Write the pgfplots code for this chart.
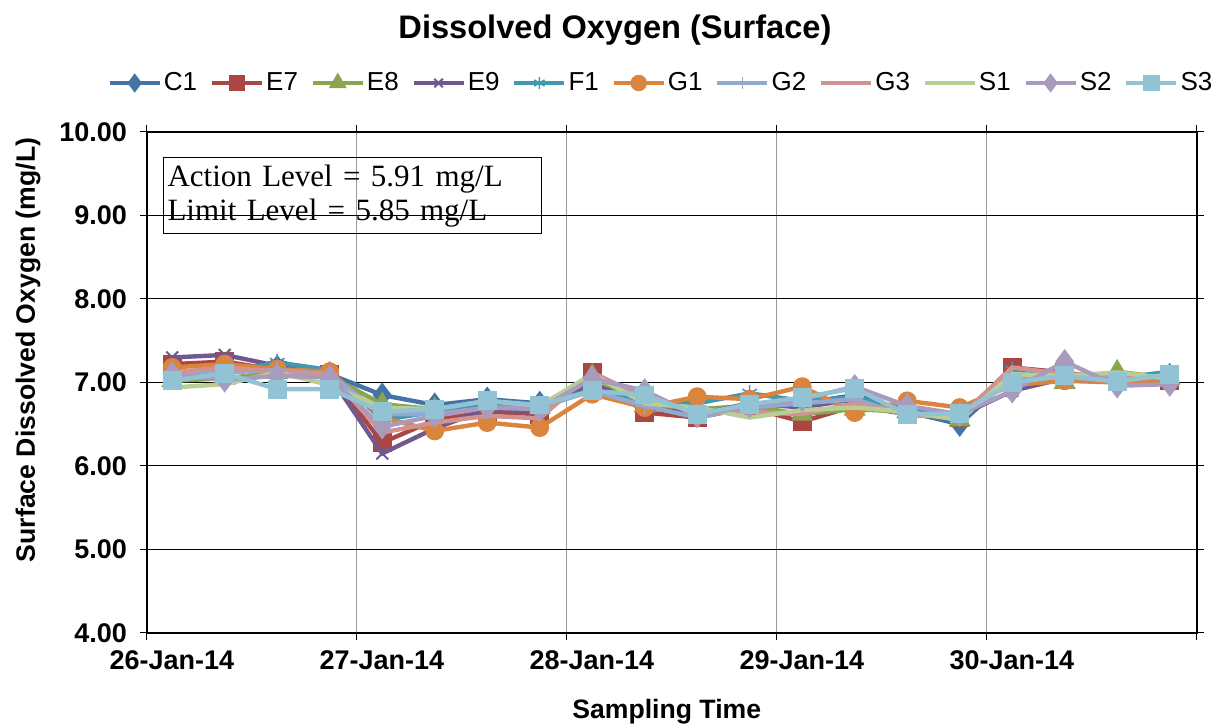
\documentclass[border=0pt]{standalone}
\usepackage{fontspec}
\setmainfont{Liberation Sans}
\newfontfamily\seriffont{Liberation Serif}
\usepackage{pgfplots}
\usepackage{pgfplotstable}
\pgfplotsset{compat=1.18}

\definecolor{cC1}{HTML}{4572A7}
\definecolor{cE7}{HTML}{AA4643}
\definecolor{cE8}{HTML}{89A54E}
\definecolor{cE9}{HTML}{71588F}
\definecolor{cF1}{HTML}{4198AF}
\definecolor{cG1}{HTML}{DB843D}
\definecolor{cG2}{HTML}{93A9CF}
\definecolor{cG3}{HTML}{D19392}
\definecolor{cS1}{HTML}{B9CD96}
\definecolor{cS2}{HTML}{A99BBD}
\definecolor{cS3}{HTML}{91C3D5}

\pgfplotstableread{
x     C1   E7   E8   E9   F1   G1   G2   G3   S1   S2   S3
26.12 7.12 7.22 7.02 7.30 7.08 7.18 7.10 7.12 6.94 7.10 7.02
26.37 7.15 7.25 7.05 7.33 7.12 7.22 7.12 7.18 6.98 7.03 7.11
26.62 7.18 7.15 7.12 7.20 7.24 7.16 7.15 7.13 7.12 7.08 6.92
26.87 7.10 7.10 7.08 7.08 7.15 7.13 7.10 7.10 6.97 7.06 6.92
27.12 6.85 6.28 6.74 6.15 6.55 6.58 6.62 6.40 6.70 6.47 6.65
27.37 6.73 6.55 6.68 6.45 6.65 6.42 6.62 6.52 6.68 6.60 6.68
27.62 6.80 6.65 6.75 6.68 6.74 6.52 6.70 6.60 6.78 6.70 6.78
27.87 6.75 6.62 6.70 6.65 6.72 6.46 6.70 6.57 6.72 6.68 6.73
28.12 6.95 7.12 7.08 7.00 6.92 6.86 6.90 7.12 7.10 7.05 6.90
28.37 6.72 6.64 6.72 6.70 6.75 6.70 6.72 6.82 6.75 6.90 6.85
28.62 6.64 6.58 6.68 6.62 6.75 6.83 6.58 6.64 6.70 6.60 6.62
28.87 6.72 6.70 6.72 6.75 6.87 6.80 6.70 6.65 6.58 6.72 6.74
29.12 6.75 6.53 6.62 6.70 6.78 6.95 6.75 6.62 6.67 6.80 6.82
29.37 6.85 6.72 6.68 6.80 6.82 6.64 6.80 6.75 6.70 6.95 6.93
29.62 6.65 6.62 6.65 6.62 6.68 6.78 6.60 6.62 6.65 6.72 6.62
29.87 6.50 6.58 6.55 6.60 6.60 6.70 6.60 6.58 6.55 6.62 6.63
30.12 7.08 7.18 7.05 6.90 7.15 6.97 7.05 7.18 7.10 6.90 7.00
30.37 7.10 7.12 7.00 7.05 7.08 7.02 7.06 7.10 7.08 7.25 7.08
30.62 7.02 7.03 7.13 7.00 7.05 7.00 7.03 7.08 7.12 6.96 7.01
30.87 7.08 7.02 7.05 7.00 7.13 7.03 7.08 7.05 7.05 6.98 7.10
}\datatable

\begin{document}
\begin{tikzpicture}
\begin{axis}[
  scale only axis,
  width=525pt, height=250.5pt,
  xmin=26, xmax=31, ymin=4, ymax=10,
  clip mode=individual,
  xtick={26,27,28,29,30,31},
  xticklabels={26-Jan-14,27-Jan-14,28-Jan-14,29-Jan-14,30-Jan-14,},
  ytick={4,5,6,7,8,9,10},
  yticklabel={\pgfmathprintnumber[fixed,precision=2,zerofill]{\tick}},
  /pgf/number format/assume math mode=true,
  ticklabel style={font=\fontsize{13.5}{16}\selectfont\bfseries},
  xticklabel style={xshift=12.5pt, yshift=-2pt},
  yticklabel style={xshift=-3pt},
  tick align=outside,
  major tick length=3.5pt,
  tick style={black, line width=0.5pt},
  xmajorgrids, ymajorgrids,
  x grid style={gray!80, line width=0.5pt},
  y grid style={black, line width=0.5pt},
  axis line style={black, line width=0.6pt},
  xlabel={Sampling Time},
  ylabel={Surface Dissolved Oxygen (mg/L)},
  label style={font=\fontsize{13.3}{16}\selectfont\bfseries},
  xlabel style={at={(axis description cs:0.495,-0.158)}, anchor=center},
  ylabel style={at={(axis description cs:-0.1133,0.565)}, anchor=center},
  legend columns=11,
  legend style={at={(axis description cs:0.4895,1.0978)}, anchor=center, draw=none,
    font=\fontsize{13}{15}\selectfont,
    nodes={inner xsep=1pt},
    /tikz/every even column/.append style={column sep=5.3pt}},
  legend image code/.code={\draw[mark repeat=2,mark phase=2] plot coordinates {(0pt,0pt)(12.5pt,0pt)(25pt,0pt)};},
  legend image post style={mark size=3pt},
  every axis plot/.append style={line width=2.2pt, mark size=3.6pt, mark options={solid}},
]
\addplot[color=cC1, mark=diamond*, mark size=4.5pt] table[x=x,y=C1]{\datatable};
\addlegendentry{C1}
\addplot[color=cE7, mark=square*] table[x=x,y=E7]{\datatable};
\addlegendentry{E7}
\addplot[color=cE8, mark=triangle*, mark size=4.2pt] table[x=x,y=E8]{\datatable};
\addlegendentry{E8}
\addplot[color=cE9, mark=x, mark size=4.2pt, mark options={line width=1pt}] table[x=x,y=E9]{\datatable};
\addlegendentry{E9}
\addplot[color=cF1, mark=asterisk, mark size=4.2pt, mark options={line width=0.8pt}] table[x=x,y=F1]{\datatable};
\addlegendentry{F1}
\addplot[color=cG1, mark=*] table[x=x,y=G1]{\datatable};
\addlegendentry{G1}
\addplot[color=cG2, mark=+, mark size=4.2pt, mark options={line width=0.8pt}] table[x=x,y=G2]{\datatable};
\addlegendentry{G2}
\addplot[color=cG3, mark=none] table[x=x,y=G3]{\datatable};
\addlegendentry{G3}
\addplot[color=cS1, mark=none] table[x=x,y=S1]{\datatable};
\addlegendentry{S1}
\addplot[color=cS2, mark=diamond*, mark size=4.5pt] table[x=x,y=S2]{\datatable};
\addlegendentry{S2}
\addplot[color=cS3, mark=square*] table[x=x,y=S3]{\datatable};
\addlegendentry{S3}
\node[draw=black, line width=0.6pt, anchor=north west, align=left, inner xsep=2pt, inner ysep=3pt,
  text width=185pt, minimum height=38pt, font=\seriffont\fontsize{15.5}{17}\selectfont]
  at (axis cs:26.076,9.70) {Action Level = 5.91 mg/L\\Limit Level = 5.85 mg/L};
\node[font=\fontsize{16.3}{19}\selectfont\bfseries] at (axis description cs:0.4457,1.2036) {Dissolved Oxygen (Surface)};
\end{axis}
\pgfresetboundingbox
\path (-73.5pt,-47pt) rectangle (540.5pt,316.5pt);
\end{tikzpicture}
\end{document}
